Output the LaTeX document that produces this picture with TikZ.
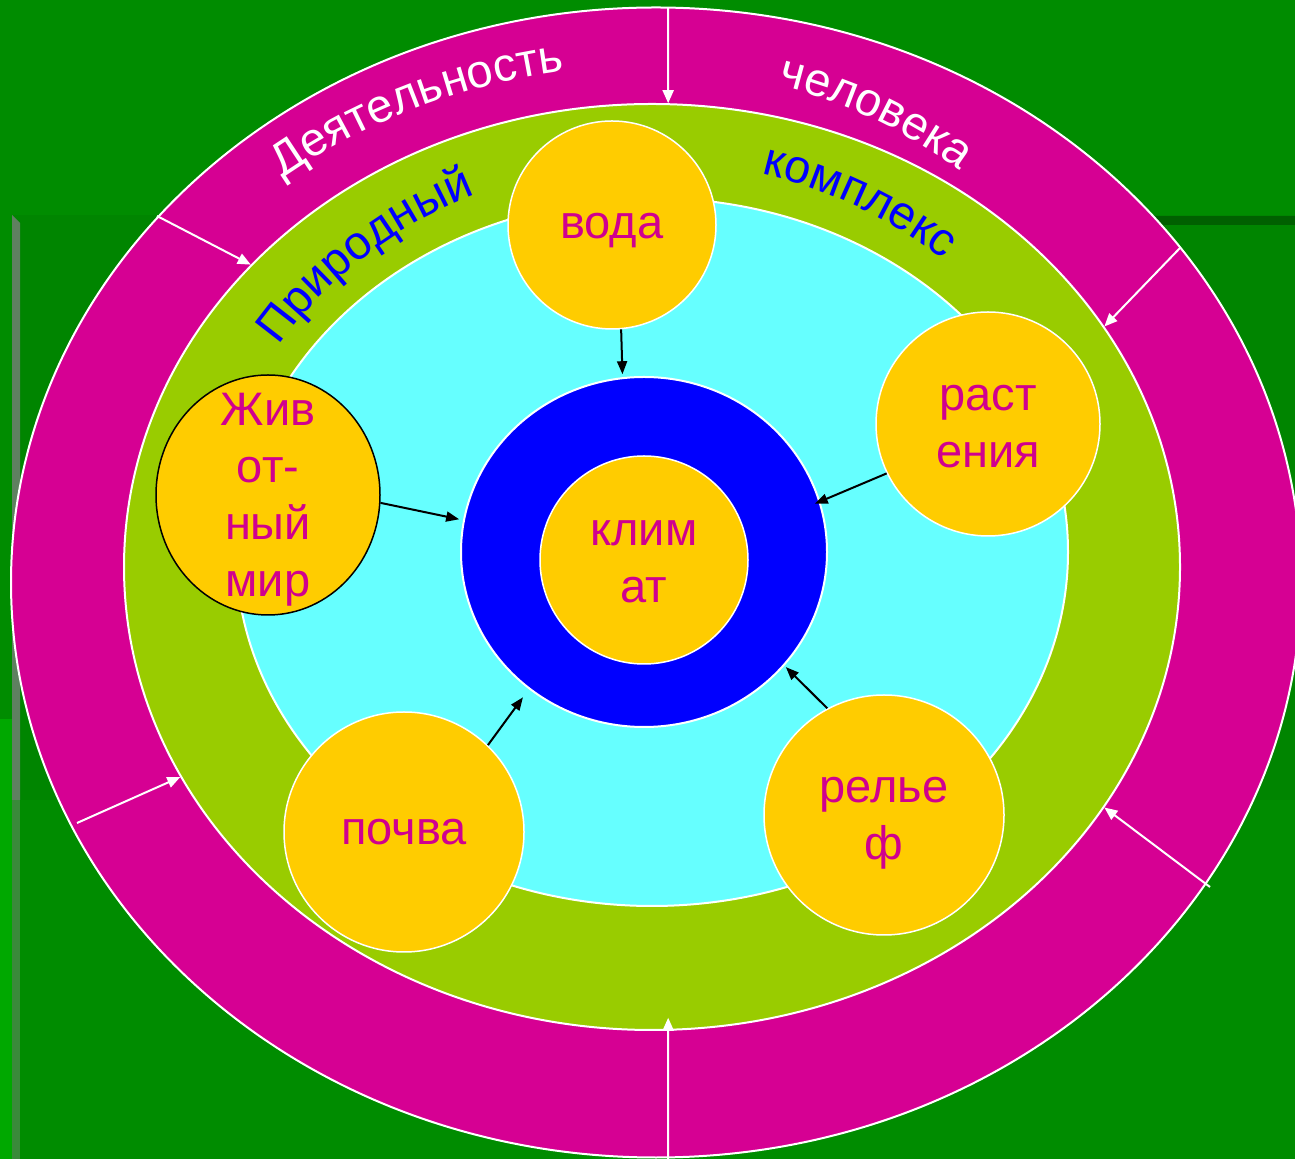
\documentclass[tikz,border=0pt]{standalone}
\usepackage{fontspec}
\setmainfont{Liberation Sans}
\usetikzlibrary{shapes.geometric,arrows.meta,decorations.text}
\definecolor{bgA}{HTML}{008C00}
\definecolor{bgPanel}{HTML}{008500}
\definecolor{bgLeft}{HTML}{00A800}
\definecolor{stripeA}{HTML}{5F8060}
\definecolor{stripeB}{HTML}{3A8A3A}
\definecolor{darkLine}{HTML}{006000}
\definecolor{ringM}{HTML}{D60093}
\definecolor{ringG}{HTML}{99CC00}
\definecolor{cyanF}{HTML}{66FFFF}
\definecolor{ylw}{HTML}{FFCC00}
\definecolor{txtM}{HTML}{D0008F}
\newcommand\lblfont{\fontsize{47}{57}\selectfont}
\newcommand\ringfont{\fontsize{47}{57}\selectfont}
% label: raise (pt) and lines
\newcommand\lbl[2]{\raisebox{#1}[0pt][0pt]{\begin{tabular}[b]{@{}c@{}}#2\end{tabular}}}
\begin{document}
\begin{tikzpicture}[x=1pt,y=1pt,
  band/.style={ellipse, inner sep=0pt, draw=white, line width=2pt},
  disc/.style={circle, inner sep=0pt, fill=ylw, draw=white, line width=1.5pt,
    text=txtM, font=\lblfont},
  whitearrow/.style={draw=white, line width=2pt, -{Triangle[length=13pt,width=11pt]}},
  blackarrow/.style={draw=black, line width=2pt, -{Triangle[length=13pt,width=10pt]}}]
\useasboundingbox (0,0) rectangle (1295,1159);
\clip (0,0) rectangle (1295,1159);
% background
\fill[bgA] (0,0) rectangle (1295,1159);
\fill[bgPanel] (12,359) rectangle (1295,944);
\fill[darkLine] (900,934) rectangle (1295,943);
\fill[bgLeft] (0,0) rectangle (12,440);
\fill[stripeA] (12,944) -- (20,936) -- (20,359) -- (12,359) -- cycle;
\fill[stripeB] (12,0) rectangle (20,359);
% rings
\node[band, fill=ringM, minimum width=1290pt, minimum height=1150pt] (outer) at (656,576.5) {};
\node[band, fill=ringG, minimum width=1056pt, minimum height=926pt] (green) at (652,592) {};
\node[band, fill=cyanF, minimum width=832pt, minimum height=708pt] (cyan) at (652,607) {};
% curved texts
\path[decorate, decoration={text along path, text={|\ringfont\color{white}|Деятельность}}]
  [shift={(654,584)}] (129:590pt and 510pt) arc[start angle=129, end angle=70, x radius=590pt, y radius=510pt];
\path[decorate, decoration={text along path, text={|\ringfont\color{white}|человека}}]
  [shift={(654,584)}] (76:511pt and 505pt) arc[start angle=76, end angle=30, x radius=511pt, y radius=505pt];
\path[decorate, decoration={text along path, text={|\ringfont\color{blue}|Природный}}]
  [shift={(652,592)}] (147:445pt and 406pt) arc[start angle=147, end angle=95, x radius=445pt, y radius=406pt];
\path[decorate, decoration={text along path, text={|\ringfont\color{blue}|комплекс}}]
  [shift={(652,592)}] (75.7:445pt and 406pt) arc[start angle=75.7, end angle=25, x radius=445pt, y radius=406pt];
% white arrows through the outer ring
\coordinate (w1) at (668,1151);
\coordinate (w2) at (668,0);
\coordinate (w3) at (157,943);
\coordinate (w4) at (1180,911);
\coordinate (w5) at (77,336);
\coordinate (w6) at (1210,272);
\draw[whitearrow] (w1) -- (green.88);
\draw[whitearrow, shorten >=-13pt] (w2) -- (green.-88);
\draw[whitearrow] (w3) -- (green.143);
\draw[whitearrow] (w4) -- (green.28);
\draw[whitearrow] (w5) -- (green.204);
\draw[whitearrow] (w6) -- (green.-28);
% centre
\node[band, fill=blue, minimum width=366pt, minimum height=350pt] (blue) at (644,607) {};
\node[disc, minimum size=208pt] (klimat) at (644,599) {\lbl{-42.7pt}{клим\\ат}};
% components
\node[disc, minimum size=208pt] (voda) at (612,934) {\lbl{-13.2pt}{вода}};
\node[disc, minimum size=224pt] (rast) at (988,735) {\lbl{-43.2pt}{раст\\ения}};
\node[ellipse, inner sep=0pt, fill=ylw, draw=black, line width=1.5pt, text=txtM,
  font=\lblfont, minimum width=224pt, minimum height=240pt] (zhiv) at (268,664) {\lbl{-101.2pt}{Жив\\от-\\ный\\мир}};
\node[disc, minimum size=240pt] (pochva) at (404,327) {\lbl{-12.2pt}{почва}};
\node[disc, minimum size=240pt] (relef) at (884,344) {\lbl{-44.7pt}{релье\\ф}};
% black arrows
\draw[blackarrow, shorten >=3pt] (voda.-85) -- (blue.97);
\draw[blackarrow, shorten >=4pt] (zhiv.-4) -- (blue.170);
\draw[blackarrow, shorten >=-6pt] (rast.206.6) -- (blue.16);
\draw[blackarrow, shorten >=2pt] (relef.118) -- (blue.-39);
\draw[blackarrow, shorten >=10pt] (pochva.46) -- (blue.230);
\end{tikzpicture}
\end{document}
